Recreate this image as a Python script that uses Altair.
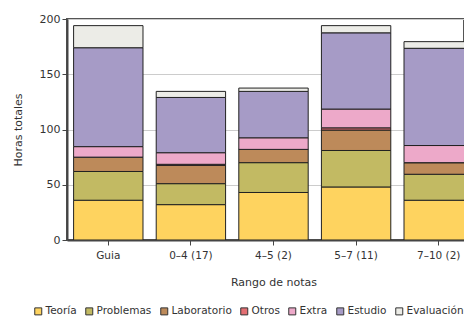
import altair as alt
import pandas as pd

categories = ["Guia", "0–4 (17)", "4–5 (2)", "5–7 (11)", "7–10 (2)"]
series = ["Teoría", "Problemas", "Laboratorio", "Otros", "Extra", "Estudio", "Evaluación"]
colors = ["#FED35F", "#C2BA63", "#BD8A5A", "#E46F73", "#EDA9C9", "#A69BC6", "#ECECE7"]

teoria = [36, 32, 43, 48, 36]
problemas = [26, 19, 27, 33, 23.5]
laboratorio = [13, 16.5, 12, 18.5, 10.5]
otros = [0, 1, 0, 2, 0]
extra = [9.5, 10.5, 10.5, 17, 15.5]
estudio = [89.5, 50, 42, 69, 88]
evaluacion = [20, 5.5, 3, 6.5, 6]

values = [teoria, problemas, laboratorio, otros, extra, estudio, evaluacion]
rows = []
for si, (s, vals) in enumerate(zip(series, values)):
    for c, v in zip(categories, vals):
        rows.append({"rango": c, "tipo": s, "horas": v, "orden": si})
df = pd.DataFrame(rows)

font = "DejaVu Sans"

chart = alt.Chart(df).mark_bar(stroke="#222222", strokeWidth=1, clip=True).encode(
    x=alt.X("rango:N", sort=categories, title="Rango de notas",
            scale=alt.Scale(range=[0, 413], paddingInner=0.16, paddingOuter=0.08),
            axis=alt.Axis(labelAngle=0, tickSize=5, labelPadding=5, titlePadding=16,
                          labelFontSize=10.5,
                          domainColor="#444444", domainWidth=2, tickColor="#444444",
                          grid=False)),
    y=alt.Y("horas:Q", stack="zero", title="Horas totales",
            scale=alt.Scale(domain=[0, 200], nice=False),
            axis=alt.Axis(values=[0, 50, 100, 150, 200], tickSize=5, labelPadding=2,
                          titlePadding=16, domainColor="#444444", domainWidth=2,
                          tickColor="#444444", gridColor="#cccccc")),
    color=alt.Color("tipo:N", sort=series, title=None,
                    scale=alt.Scale(domain=series, range=colors),
                    legend=alt.Legend(orient="none", direction="horizontal",
                                      legendX=-34, legendY=287, symbolType="square",
                                      symbolSize=49, symbolStrokeColor="#333333",
                                      symbolStrokeWidth=1, labelOffset=2,
                                      columnPadding=6, labelFontSize=10.5,
                                      labelFont=font, labelColor="#333333")),
    order=alt.Order("orden:Q", sort="ascending"),
).properties(
    width=397, height=221,
    autosize=alt.AutoSizeParams(type="none"),
    padding={"left": 59, "top": 11, "right": 0, "bottom": 76},
).configure_axis(
    labelFont=font, titleFont=font, labelFontSize=11, titleFontSize=11,
    labelColor="#333333", titleColor="#333333", titleFontWeight="normal",
).configure_view(
    stroke="#555555", strokeWidth=2,
)

chart.save("out.html", embed_options={"renderer": "svg", "actions": False})
